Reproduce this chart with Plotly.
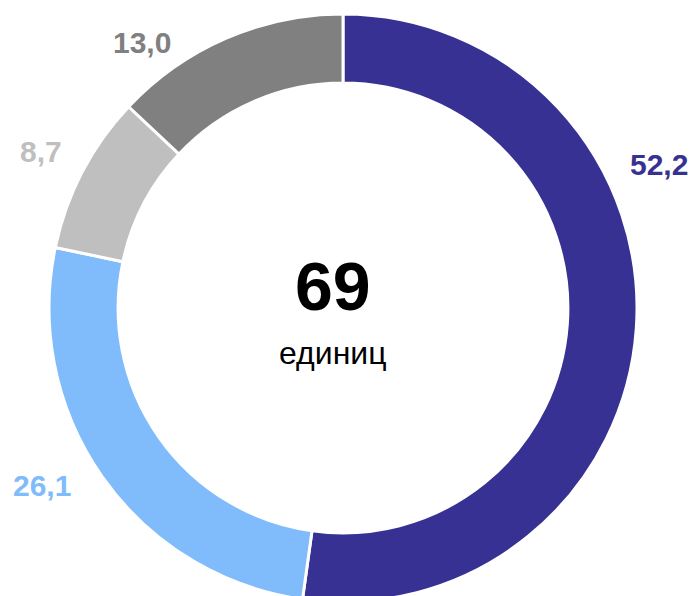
import plotly.graph_objects as go

# Data
categories = ["A", "B", "C", "D"]
values = [52.2, 26.1, 8.7, 13.0]
value_labels = ["52,2", "26,1", "8,7", "13,0"]
colors = ["#363192", "#80BCFB", "#BFBFBF", "#808080"]
total_label = "69"
unit_label = "единиц"

W, H = 698, 602  # figure slightly taller than viewport; bottom is clipped like the reference
# label positions in pixels (layout)
label_px = [(659, 164), (42, 485), (41, 151), (142, 43)]

fig = go.Figure(go.Pie(
    labels=categories,
    values=values,
    sort=False,
    direction="clockwise",
    rotation=0,
    hole=0.765,
    marker=dict(colors=colors, line=dict(color="white", width=3)),
    textinfo="none",
    hoverinfo="skip",
    showlegend=False,
    domain=dict(x=[49 / W, 637 / W], y=[0, 1 - 14 / H]),
))

ann = []
for (px, py), txt, c in zip(label_px, value_labels, colors):
    ann.append(dict(x=px / W, y=1 - py / H, xref="paper", yref="paper",
                    text=f"<b>{txt}</b>", showarrow=False,
                    font=dict(family="Liberation Sans, Arial", size=30, color=c),
                    xanchor="center", yanchor="middle"))
ann.append(dict(x=333 / W, y=1 - 286 / H, xref="paper", yref="paper",
                text=f"<b>{total_label}</b>", showarrow=False,
                font=dict(family="Liberation Sans, Arial", size=68, color="black"),
                xanchor="center", yanchor="middle"))
ann.append(dict(x=333 / W, y=1 - 353 / H, xref="paper", yref="paper",
                text=unit_label, showarrow=False,
                font=dict(family="Liberation Sans, Arial", size=32, color="black"),
                xanchor="center", yanchor="middle"))

fig.update_layout(width=W, height=H, margin=dict(l=0, r=0, t=0, b=0),
                  paper_bgcolor="white", plot_bgcolor="white",
                  annotations=ann)
fig.write_html("out.html", config={"displayModeBar": False},
               post_script="document.body.style.margin='0';document.body.style.overflow='hidden';")
